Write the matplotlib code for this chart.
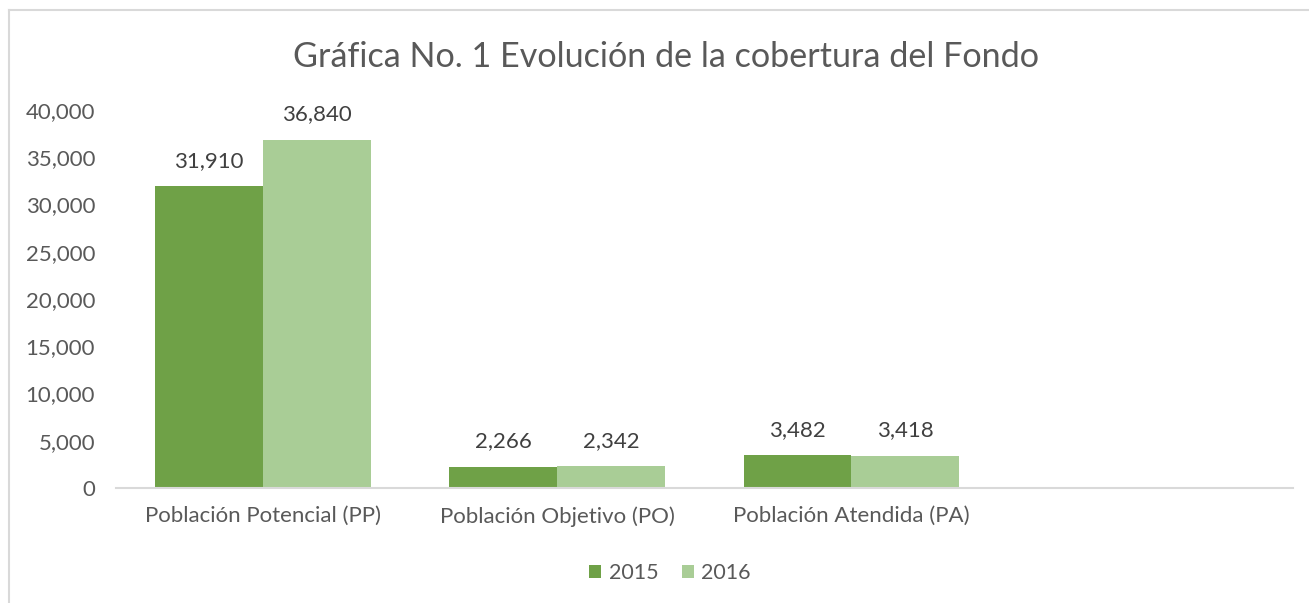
import matplotlib.pyplot as plt
import numpy as np

categorias = ['Población Potencial (PP)', 'Población Objetivo (PO)', 'Población Atendida (PA)', '']
anios = ['2015', '2016']
valores_2015 = [31910, 2266, 3482, 0]
valores_2016 = [36840, 2342, 3418, 0]
colores = ['#6FA147', '#A9CD96']

plt.rcParams['font.family'] = ['Lato', 'DejaVu Sans']
gris = '#595959'

fig = plt.figure(figsize=(13.09, 6.03), dpi=100)
ax = fig.add_axes([0.0886, 0.1907, 0.899, 0.6269])

x = np.arange(len(categorias))
ancho = 0.367
series = [valores_2015, valores_2016]
for i, vals in enumerate(series):
    n = 3  # only the first three slots have data
    pos = x[:n] + (i - 0.5) * ancho
    barras = ax.bar(pos, vals[:n], width=ancho, color=colores[i], label=anios[i])
    for b, v in zip(barras, vals[:n]):
        ax.annotate(f'{v:,}', (b.get_x() + b.get_width() / 2, v),
                    xytext=(0, 11), textcoords='offset points',
                    ha='center', va='bottom', fontsize=16, color='#404040')

ax.set_xlim(-0.5, 3.5)
ax.set_ylim(0, 40000)
ax.set_yticks(np.arange(0, 40001, 5000))
ax.set_yticklabels([f'{t:,}' for t in range(0, 40001, 5000)])
ax.set_xticks(x)
ax.set_xticklabels(categorias)
ax.tick_params(length=0, labelsize=16, colors=gris)
ax.tick_params(axis='x', labelsize=16, pad=13)
ax.tick_params(axis='y', pad=15)
for s in ['top', 'right', 'left']:
    ax.spines[s].set_visible(False)
ax.spines['bottom'].set_color('#D9D9D9')
ax.spines['bottom'].set_linewidth(1.5)

fig.text(0.509, 0.905, 'Gráfica No. 1 Evolución de la cobertura del Fondo',
         ha='center', va='center', fontsize=24.6, color=gris)

leg = fig.legend(loc='center', bbox_to_anchor=(0.512, 0.05), ncol=2, frameon=False,
                 fontsize=15.5, handlelength=0.55, handleheight=0.55,
                 handletextpad=0.35, columnspacing=1.1)
for t in leg.get_texts():
    t.set_color(gris)

# marco del grafico
fig.add_artist(plt.Line2D([0.007, 0.007], [0.0, 0.983], color='#D9D9D9', lw=1.5))
fig.add_artist(plt.Line2D([0.007, 1.0], [0.983, 0.983], color='#D9D9D9', lw=1.5))

fig.savefig('out.png', dpi=100)
